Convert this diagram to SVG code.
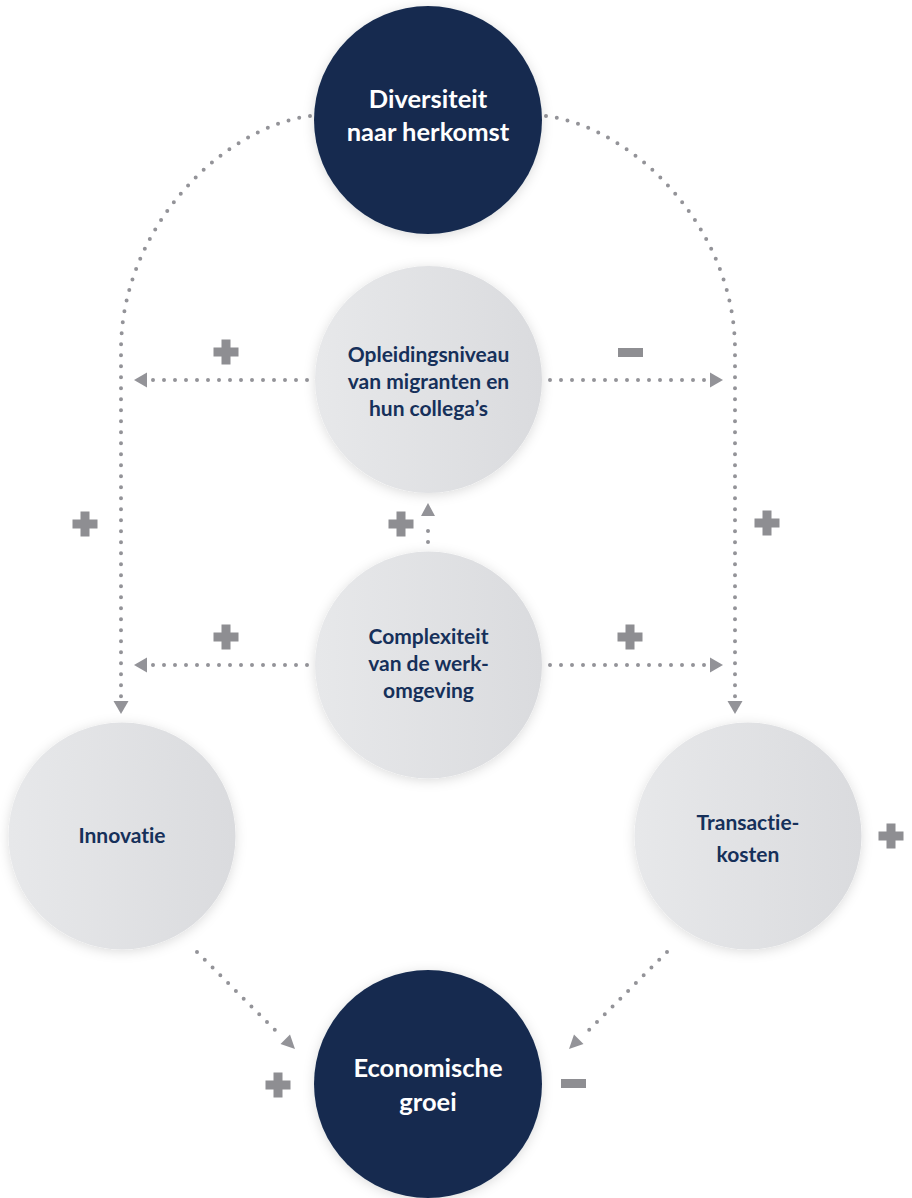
<svg xmlns="http://www.w3.org/2000/svg" width="912" height="1198" viewBox="0 0 912 1198">
<style>
.dot{fill:none;stroke:#939398;stroke-width:4;stroke-linecap:round;stroke-dasharray:0 11}
.head{fill:#939398}
.sign{fill:#8e8e92}
.lt{font-family:Lato,"Open Sans",sans-serif;font-weight:700;font-size:21px;fill:#16305a;text-anchor:middle;font-variant-ligatures:none}
.dt{font-family:Lato,"Open Sans",sans-serif;font-weight:700;font-size:25.5px;fill:#ffffff;text-anchor:middle;font-variant-ligatures:none}
</style>
<defs>
<linearGradient id="lg" x1="0" y1="0" x2="1" y2="0">
<stop offset="0" stop-color="#e7e8ea"/>
<stop offset="1" stop-color="#dadbde"/>
</linearGradient>
<filter id="sh" x="-20%" y="-20%" width="140%" height="140%">
<feDropShadow dx="0" dy="2" stdDeviation="6" flood-color="#000" flood-opacity="0.14"/>
</filter>
<g id="plus"><rect x="-12.5" y="-4.5" width="25" height="9"/><rect x="-4.5" y="-12.5" width="9" height="25"/></g>
</defs>
<rect width="912" height="1198" fill="#ffffff"/>
<g id="connectors">
<path class="dot" d="M310 116 C220 128 121 230 121 350 L121 700"/>
<polygon class="head" points="121,714 113.5,701 128.5,701"/>
<path class="dot" d="M546 116 C636 128 735 230 735 350 L735 700"/>
<polygon class="head" points="735,714 727.5,701 742.5,701"/>
<path class="dot" d="M307 380 L151 380"/>
<polygon class="head" points="134,380 147,372.5 147,387.5"/>
<path class="dot" d="M550 380 L708 380"/>
<polygon class="head" points="723,380 710,372.5 710,387.5"/>
<path class="dot" d="M307 665 L151 665"/>
<polygon class="head" points="134,665 147,657.5 147,672.5"/>
<path class="dot" d="M550 665 L708 665"/>
<polygon class="head" points="723,665 710,657.5 710,672.5"/>
<path class="dot" d="M428 542 L428 522"/>
<polygon class="head" points="428,503 421,516 435,516"/>
<path class="dot" d="M197 952 L280 1035"/>
<polygon class="head" points="295,1049 280.5,1044 290,1034.5"/>
<path class="dot" d="M667 952 L584 1035"/>
<polygon class="head" points="569,1049 574,1034.5 583.5,1044"/>
</g>
<g id="signs" class="sign">
<use href="#plus" x="226" y="352"/>
<use href="#plus" x="85" y="524"/>
<use href="#plus" x="401" y="524"/>
<use href="#plus" x="226" y="637"/>
<use href="#plus" x="630" y="637"/>
<use href="#plus" x="767" y="523"/>
<use href="#plus" x="891" y="836"/>
<use href="#plus" x="278" y="1085"/>
<rect x="618" y="348" width="25" height="9"/>
<rect x="561" y="1079" width="25" height="9"/>
</g>
<g id="node-diversiteit">
<circle cx="428" cy="120" r="114" fill="#172c50" filter="url(#sh)"/>
<text class="dt" x="428" y="108">Diversiteit</text>
<text class="dt" x="428" y="141">naar herkomst</text>
</g>
<g id="node-opleidingsniveau">
<circle cx="428.5" cy="379.5" r="113.5" fill="url(#lg)" filter="url(#sh)"/>
<text class="lt" x="428.5" y="362">Opleidingsniveau</text>
<text class="lt" x="428.5" y="389">van migranten en</text>
<text class="lt" x="428.5" y="416">hun collega’s</text>
</g>
<g id="node-complexiteit">
<circle cx="428.5" cy="665" r="113.5" fill="url(#lg)" filter="url(#sh)"/>
<text class="lt" x="428.5" y="644">Complexiteit</text>
<text class="lt" x="428.5" y="671">van de werk-</text>
<text class="lt" x="428.5" y="698">omgeving</text>
</g>
<g id="node-innovatie">
<circle cx="122" cy="836" r="113.5" fill="url(#lg)" filter="url(#sh)"/>
<text class="lt" x="122" y="843">Innovatie</text>
</g>
<g id="node-transactiekosten">
<circle cx="748" cy="836" r="113.5" fill="url(#lg)" filter="url(#sh)"/>
<text class="lt" x="748" y="830">Transactie-</text>
<text class="lt" x="748" y="862">kosten</text>
</g>
<g id="node-economische-groei">
<circle cx="428" cy="1084" r="114" fill="#172c50" filter="url(#sh)"/>
<text class="dt" x="428" y="1077">Economische</text>
<text class="dt" x="428" y="1111">groei</text>
</g>
</svg>
